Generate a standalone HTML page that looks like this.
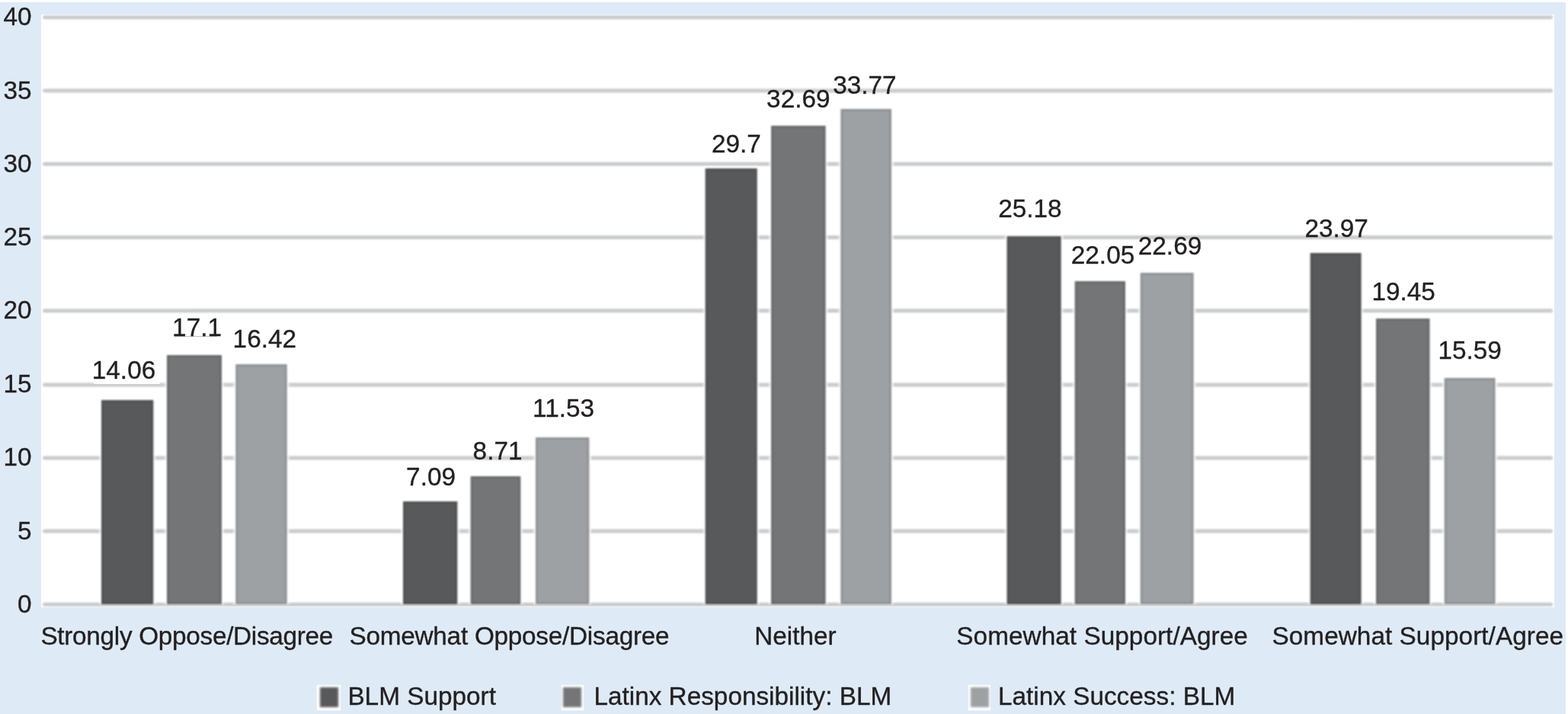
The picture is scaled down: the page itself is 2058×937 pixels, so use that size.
<!DOCTYPE html>
<html lang="en">
<head>
<meta charset="utf-8">
<title>BLM Support chart</title>
<style>
html,body{margin:0;padding:0;background:#fff;}
body{width:2058px;height:937px;overflow:hidden;position:relative;font-family:"Liberation Sans",sans-serif;}
.bg{position:absolute;left:0;top:3px;width:2055px;height:934px;background:#deebf7;}
.plot{position:absolute;left:54px;top:19px;width:1986px;height:778px;background:#fff;overflow:hidden;display:block;}
.t{position:absolute;font-size:33.33px;line-height:33.33px;color:#231f20;white-space:nowrap;-webkit-text-stroke:0.35px #231f20;}
.y{position:absolute;font-size:33.33px;line-height:33.33px;color:#231f20;white-space:nowrap;text-align:right;width:60px;left:-18.5px;-webkit-text-stroke:0.35px #231f20;}
.wb{position:absolute;background:#fff;}
.ul{position:absolute;height:1px;background:rgba(35,31,32,0.28);}
.sw{position:absolute;height:33px;background:#fff;top:898.8px;box-shadow:0 0 1px #fff;}
.sw i{position:absolute;top:3px;height:26.4px;filter:blur(1.4px);}
</style>
</head>
<body>
<div class="bg"></div>
<svg class="plot" width="1986" height="778" viewBox="0 0 1986 778" role="img" aria-label="Grouped bar chart">

<defs>
<filter id="fg" color-interpolation-filters="sRGB" filterUnits="userSpaceOnUse" x="-20" y="-20" width="2026" height="818"><feGaussianBlur stdDeviation="1.0"/></filter>
<filter id="fh" color-interpolation-filters="sRGB" filterUnits="userSpaceOnUse" x="-20" y="-20" width="2026" height="818"><feGaussianBlur stdDeviation="1.6"/></filter>
<filter id="fb" color-interpolation-filters="sRGB" filterUnits="userSpaceOnUse" x="-20" y="-20" width="2026" height="818"><feGaussianBlur stdDeviation="1.2"/></filter>
</defs>
<g class="grid" filter="url(#fg)" fill="#c9cacc">
<rect x="2" y="1.20" width="1982" height="5" rx="2.5"/>
<rect x="2" y="97.60" width="1982" height="5" rx="2.5"/>
<rect x="2" y="193.80" width="1982" height="5" rx="2.5"/>
<rect x="2" y="290.00" width="1982" height="5" rx="2.5"/>
<rect x="2" y="386.20" width="1982" height="5" rx="2.5"/>
<rect x="2" y="483.40" width="1982" height="5" rx="2.5"/>
<rect x="2" y="579.40" width="1982" height="5" rx="2.5"/>
<rect x="2" y="675.60" width="1982" height="5" rx="2.5"/>
<rect x="2" y="771.80" width="1982" height="5" rx="2.5"/>
</g>
<g class="halo" filter="url(#fh)" fill="#fff" fill-opacity="0.85">
<rect x="76.5" y="503.5" width="73.3" height="270.5"/>
<rect x="162.5" y="444.5" width="77.0" height="329.5"/>
<rect x="252.8" y="456.5" width="72.4" height="317.5"/>
<rect x="472.5" y="636.5" width="76.3" height="137.5"/>
<rect x="561.2" y="603.5" width="70.6" height="170.5"/>
<rect x="646.5" y="552.5" width="75.3" height="221.5"/>
<rect x="869.2" y="199.5" width="73.0" height="574.5"/>
<rect x="955.6" y="143.5" width="76.5" height="630.5"/>
<rect x="1046.9" y="121.5" width="71.6" height="652.5"/>
<rect x="1265.1" y="288.5" width="76.0" height="485.5"/>
<rect x="1354.2" y="347.5" width="71.3" height="426.5"/>
<rect x="1440.2" y="336.5" width="74.9" height="437.5"/>
<rect x="1663.2" y="310.5" width="71.9" height="463.5"/>
<rect x="1749.5" y="396.5" width="75.5" height="377.5"/>
<rect x="1839.2" y="474.5" width="71.8" height="299.5"/>
</g>
<g class="bars" filter="url(#fb)">
<rect x="79.0" y="506.0" width="68.3" height="268.0" fill="#58595b"/>
<rect x="80.5" y="507.5" width="65.3" height="265.0" fill="none" stroke="#000" stroke-opacity="0.09" stroke-width="3"/>
<rect x="165.0" y="447.0" width="72.0" height="327.0" fill="#737577"/>
<rect x="166.5" y="448.5" width="69.0" height="324.0" fill="none" stroke="#000" stroke-opacity="0.09" stroke-width="3"/>
<rect x="255.3" y="459.0" width="67.4" height="315.0" fill="#9ea1a4"/>
<rect x="256.8" y="460.5" width="64.4" height="312.0" fill="none" stroke="#000" stroke-opacity="0.09" stroke-width="3"/>
<rect x="475.0" y="639.0" width="71.3" height="135.0" fill="#58595b"/>
<rect x="476.5" y="640.5" width="68.3" height="132.0" fill="none" stroke="#000" stroke-opacity="0.09" stroke-width="3"/>
<rect x="563.7" y="606.0" width="65.6" height="168.0" fill="#737577"/>
<rect x="565.2" y="607.5" width="62.6" height="165.0" fill="none" stroke="#000" stroke-opacity="0.09" stroke-width="3"/>
<rect x="649.0" y="555.0" width="70.3" height="219.0" fill="#9ea1a4"/>
<rect x="650.5" y="556.5" width="67.3" height="216.0" fill="none" stroke="#000" stroke-opacity="0.09" stroke-width="3"/>
<rect x="871.7" y="202.0" width="68.0" height="572.0" fill="#58595b"/>
<rect x="873.2" y="203.5" width="65.0" height="569.0" fill="none" stroke="#000" stroke-opacity="0.09" stroke-width="3"/>
<rect x="958.1" y="146.0" width="71.5" height="628.0" fill="#737577"/>
<rect x="959.6" y="147.5" width="68.5" height="625.0" fill="none" stroke="#000" stroke-opacity="0.09" stroke-width="3"/>
<rect x="1049.4" y="124.0" width="66.6" height="650.0" fill="#9ea1a4"/>
<rect x="1050.9" y="125.5" width="63.6" height="647.0" fill="none" stroke="#000" stroke-opacity="0.09" stroke-width="3"/>
<rect x="1267.6" y="291.0" width="71.0" height="483.0" fill="#58595b"/>
<rect x="1269.1" y="292.5" width="68.0" height="480.0" fill="none" stroke="#000" stroke-opacity="0.09" stroke-width="3"/>
<rect x="1356.7" y="350.0" width="66.3" height="424.0" fill="#737577"/>
<rect x="1358.2" y="351.5" width="63.3" height="421.0" fill="none" stroke="#000" stroke-opacity="0.09" stroke-width="3"/>
<rect x="1442.7" y="339.0" width="69.9" height="435.0" fill="#9ea1a4"/>
<rect x="1444.2" y="340.5" width="66.9" height="432.0" fill="none" stroke="#000" stroke-opacity="0.09" stroke-width="3"/>
<rect x="1665.7" y="313.0" width="66.9" height="461.0" fill="#58595b"/>
<rect x="1667.2" y="314.5" width="63.9" height="458.0" fill="none" stroke="#000" stroke-opacity="0.09" stroke-width="3"/>
<rect x="1752.0" y="399.0" width="70.5" height="375.0" fill="#737577"/>
<rect x="1753.5" y="400.5" width="67.5" height="372.0" fill="none" stroke="#000" stroke-opacity="0.09" stroke-width="3"/>
<rect x="1841.7" y="477.0" width="66.8" height="297.0" fill="#9ea1a4"/>
<rect x="1843.2" y="478.5" width="63.8" height="294.0" fill="none" stroke="#000" stroke-opacity="0.09" stroke-width="3"/>
</g>
</svg>
<div class="wb" style="left:122.6px;top:468px;width:87px;height:35.7px"></div>
<div class="ul" style="left:229px;top:441.2px;width:56px"></div>
<div class="yaxis">
<div class="y" style="top:5.2px">40</div>
<div class="y" style="top:101.6px">35</div>
<div class="y" style="top:197.8px">30</div>
<div class="y" style="top:294.0px">25</div>
<div class="y" style="top:390.2px">20</div>
<div class="y" style="top:487.4px">15</div>
<div class="y" style="top:583.4px">10</div>
<div class="y" style="top:679.6px">5</div>
<div class="y" style="top:775.8px">0</div>
</div>
<div class="values">
<div class="t" style="left:120.8px;top:468.6px">14.06</div>
<div class="t" style="left:226.1px;top:412.8px">17.1</div>
<div class="t" style="left:305.6px;top:428.1px">16.42</div>
<div class="t" style="left:533.1px;top:609.3px">7.09</div>
<div class="t" style="left:620.6px;top:574.8px">8.71</div>
<div class="t" style="left:699.1px;top:519.3px">11.53</div>
<div class="t" style="left:934.0px;top:171.9px">29.7</div>
<div class="t" style="left:1006.1px;top:113.2px">32.69</div>
<div class="t" style="left:1093.2px;top:94.7px">33.77</div>
<div class="t" style="left:1310.2px;top:257.2px">25.18</div>
<div class="t" style="left:1405.8px;top:317.8px">22.05</div>
<div class="t" style="left:1493.8px;top:305.8px">22.69</div>
<div class="t" style="left:1712.4px;top:282.6px">23.97</div>
<div class="t" style="left:1800.4px;top:366.0px">19.45</div>
<div class="t" style="left:1887.4px;top:443.1px">15.59</div>
</div>
<div class="xaxis">
<div class="t" style="left:53.4px;top:818.0px;letter-spacing:-0.3px">Strongly Oppose/Disagree</div>
<div class="t" style="left:458.5px;top:818.0px;letter-spacing:-0.26px">Somewhat Oppose/Disagree</div>
<div class="t" style="left:990.2px;top:818.0px">Neither</div>
<div class="t" style="left:1255.3px;top:818.0px;letter-spacing:0.04px">Somewhat Support/Agree</div>
<div class="t" style="left:1669.5px;top:818.0px;letter-spacing:0.04px">Somewhat Support/Agree</div>
</div>
<div class="legend">
<div class="sw" style="left:416.1px;width:30.8px"><i style="left:3.6px;width:24.8px;background:#58595b"></i></div>
<div class="t" style="left:456.4px;top:897.0px">BLM Support</div>
<div class="sw" style="left:737.2px;width:28.8px"><i style="left:1.8px;width:24.4px;background:#737577"></i></div>
<div class="t" style="left:779.4px;top:897.0px">Latinx Responsibility: BLM</div>
<div class="sw" style="left:1271.2px;width:28.8px"><i style="left:2.6px;width:24.4px;background:#9ea1a4"></i></div>
<div class="t" style="left:1310.0px;top:897.0px">Latinx Success: BLM</div>
</div>
</body>
</html>
